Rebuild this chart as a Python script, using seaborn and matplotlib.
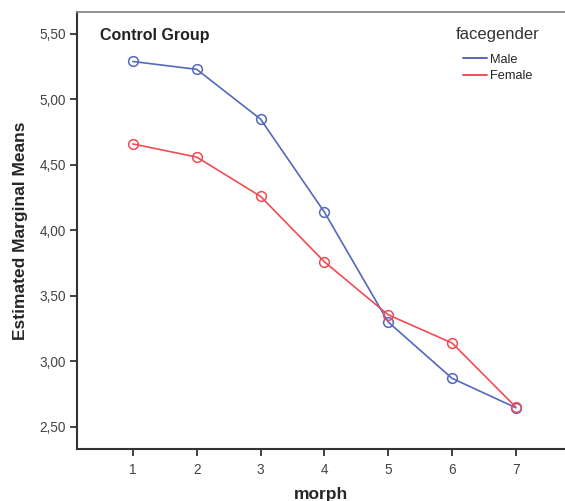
import pandas as pd
import matplotlib
import matplotlib.pyplot as plt
import seaborn as sns
from matplotlib.lines import Line2D
from matplotlib.ticker import FuncFormatter

matplotlib.use('agg')

# Data
morph = [1, 2, 3, 4, 5, 6, 7]
male = [5.29, 5.23, 4.85, 4.14, 3.30, 2.87, 2.645]
female = [4.66, 4.56, 4.26, 3.76, 3.355, 3.14, 2.65]
groups = ['Male', 'Female']
colors = {'Male': '#5468bd', 'Female': '#f04c55'}
y_ticks = [2.5, 3.0, 3.5, 4.0, 4.5, 5.0, 5.5]

df = pd.DataFrame({
    'morph': morph * 2,
    'mean': male + female,
    'facegender': ['Male'] * len(morph) + ['Female'] * len(morph),
})

sns.set_style('white')
plt.rcParams['font.family'] = ['Liberation Sans', 'DejaVu Sans']

fig = plt.figure(figsize=(5.65, 5.01), dpi=100)
ax = fig.add_axes([77 / 565, 52 / 501, 1 - 77 / 565, 437 / 501])

sns.lineplot(data=df, x='morph', y='mean', hue='facegender', hue_order=groups,
             palette=colors, marker='o', markersize=7, linewidth=1.2, ax=ax, legend=False)
for line, g in zip(ax.lines, groups):
    line.set_markerfacecolor('none')
    line.set_markeredgecolor(colors[g])
    line.set_markeredgewidth(1.1)

ax.set_xlim(0.125, 7.77)
ax.set_ylim(2.33, 5.668)
ax.set_xticks(morph)
ax.set_yticks(y_ticks)
ax.yaxis.set_major_formatter(FuncFormatter(lambda v, p: f'{v:.2f}'.replace('.', ',')))
ax.tick_params(axis='both', direction='out', length=5, width=1.3, color='#333333',
               labelsize=9.8, labelcolor='#444444', pad=3, left=True, bottom=True)
ax.tick_params(axis='x', pad=5)

for side in ['left', 'bottom']:
    ax.spines[side].set_color('#333333')
    ax.spines[side].set_linewidth(1.5)
ax.spines['top'].set_color('#888888')
ax.spines['top'].set_linewidth(1.3)
ax.spines['right'].set_visible(False)

ax.set_xlabel('morph', fontsize=12.5, fontweight='bold', labelpad=7)
ax.set_ylabel('Estimated Marginal Means', fontsize=12.5, fontweight='bold', labelpad=8)

ax.text(0.047, 0.947, 'Control Group', transform=ax.transAxes, fontsize=11.5,
        fontweight='bold', va='center', ha='left', color='#222222')

# legend title drawn separately (SPSS puts a bigger gap under it)
ax.text(0.861, 0.948, 'facegender', transform=ax.transAxes, fontsize=12,
        va='center', ha='center', color='#333333')
handles = [Line2D([0], [0], color=colors[g], lw=1.4) for g in groups]
ax.legend(handles, groups, loc='upper left', bbox_to_anchor=(0.791, 0.904),
          frameon=False, fontsize=9.2, handlelength=1.9, handletextpad=0.25,
          labelspacing=0.33, borderpad=0, borderaxespad=0)

fig.savefig('out.png', dpi=100)
plt.close()
